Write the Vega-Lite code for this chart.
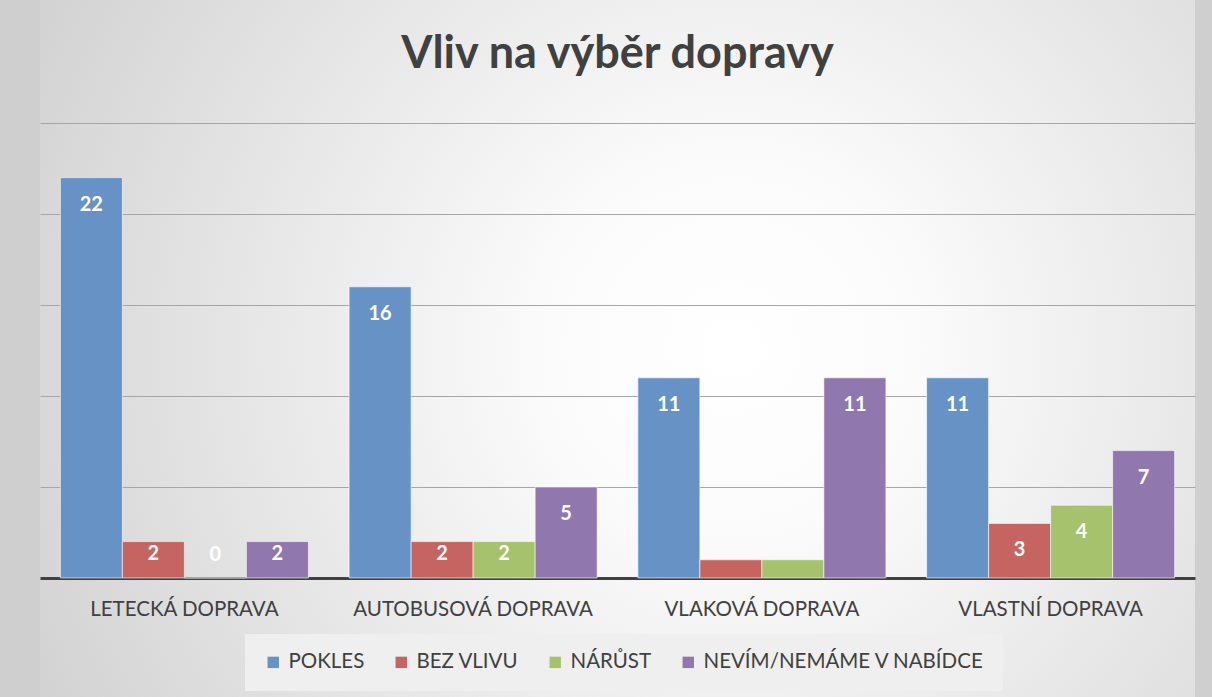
{
  "$schema": "https://vega.github.io/schema/vega-lite/v6.json",
  "autosize": {"type": "none"},
  "width": 1155,
  "height": 697,
  "padding": {"left": 40, "top": 0, "right": 17, "bottom": 0},
  "background": "#cfcfcf",
  "config": {
    "view": {
      "stroke": null,
      "fill": {
        "gradient": "radial",
        "x1": 0.6, "y1": 0.5, "r1": 0,
        "x2": 0.6, "y2": 0.5, "r2": 0.8,
        "stops": [
          {"offset": 0, "color": "#ffffff"},
          {"offset": 0.2, "color": "#fbfbfb"},
          {"offset": 1, "color": "#c8c8c8"}
        ]
      }
    },
    "font": "Lato"
  },
  "title": {
    "text": "Vliv na výběr dopravy",
    "anchor": "middle",
    "orient": "top",
    "offset": -113,
    "baseline": "alphabetic",
    "font": "Lato",
    "fontSize": 45,
    "fontWeight": "bold",
    "color": "#404040"
  },
  "data": {
    "values": [
      {"transport": "LETECKÁ DOPRAVA", "series": "POKLES", "value": 22, "label": "22"},
      {"transport": "LETECKÁ DOPRAVA", "series": "BEZ VLIVU", "value": 2, "label": "2"},
      {"transport": "LETECKÁ DOPRAVA", "series": "NÁRŮST", "value": 0, "label": "0"},
      {"transport": "LETECKÁ DOPRAVA", "series": "NEVÍM/NEMÁME V NABÍDCE", "value": 2, "label": "2"},
      {"transport": "AUTOBUSOVÁ DOPRAVA", "series": "POKLES", "value": 16, "label": "16"},
      {"transport": "AUTOBUSOVÁ DOPRAVA", "series": "BEZ VLIVU", "value": 2, "label": "2"},
      {"transport": "AUTOBUSOVÁ DOPRAVA", "series": "NÁRŮST", "value": 2, "label": "2"},
      {"transport": "AUTOBUSOVÁ DOPRAVA", "series": "NEVÍM/NEMÁME V NABÍDCE", "value": 5, "label": "5"},
      {"transport": "VLAKOVÁ DOPRAVA", "series": "POKLES", "value": 11, "label": "11"},
      {"transport": "VLAKOVÁ DOPRAVA", "series": "BEZ VLIVU", "value": 1, "label": ""},
      {"transport": "VLAKOVÁ DOPRAVA", "series": "NÁRŮST", "value": 1, "label": ""},
      {"transport": "VLAKOVÁ DOPRAVA", "series": "NEVÍM/NEMÁME V NABÍDCE", "value": 11, "label": "11"},
      {"transport": "VLASTNÍ DOPRAVA", "series": "POKLES", "value": 11, "label": "11"},
      {"transport": "VLASTNÍ DOPRAVA", "series": "BEZ VLIVU", "value": 3, "label": "3"},
      {"transport": "VLASTNÍ DOPRAVA", "series": "NÁRŮST", "value": 4, "label": "4"},
      {"transport": "VLASTNÍ DOPRAVA", "series": "NEVÍM/NEMÁME V NABÍDCE", "value": 7, "label": "7"}
    ]
  },
  "encoding": {
    "x": {
      "field": "transport",
      "type": "nominal",
      "sort": ["LETECKÁ DOPRAVA", "AUTOBUSOVÁ DOPRAVA", "VLAKOVÁ DOPRAVA", "VLASTNÍ DOPRAVA"],
      "scale": {"paddingInner": 0.141, "paddingOuter": 0.0705},
      "axis": {
        "title": null,
        "orient": "bottom",
        "offset": -119,
        "labelAngle": 0,
        "ticks": false,
        "grid": false,
        "domainColor": "#404040",
        "domainWidth": 3,
        "labelFont": "Lato",
        "labelFontSize": 20.5,
        "labelColor": "#404040",
        "labelPadding": 21,
        "labelLimit": 400
      }
    },
    "xOffset": {
      "field": "series",
      "type": "nominal",
      "sort": ["POKLES", "BEZ VLIVU", "NÁRŮST", "NEVÍM/NEMÁME V NABÍDCE"],
      "scale": {"paddingInner": 0, "paddingOuter": 0}
    },
    "y": {
      "field": "value",
      "type": "quantitative",
      "scale": {"domain": [-6.54, 31.76], "nice": false, "zero": false},
      "axis": {
        "title": null,
        "values": [5, 10, 15, 20, 25],
        "labels": false,
        "ticks": false,
        "domain": false,
        "grid": true,
        "gridColor": "#a6a6a6",
        "gridWidth": 1
      }
    }
  },
  "layer": [
    {
      "mark": {"type": "bar", "stroke": "#ffffff", "strokeOpacity": 0.6, "strokeWidth": 1},
      "encoding": {
        "y2": {"datum": 0},
        "color": {
          "field": "series",
          "type": "nominal",
          "scale": {
            "domain": ["POKLES", "BEZ VLIVU", "NÁRŮST", "NEVÍM/NEMÁME V NABÍDCE"],
            "range": ["#6792c6", "#c66461", "#a6c26c", "#9077ad"]
          },
          "legend": {
            "title": null,
            "orient": "none",
            "legendX": 205,
            "legendY": 634,
            "direction": "horizontal",
            "fillColor": "#efefef",
            "padding": 18,
            "symbolType": "square",
            "symbolSize": 130,
            "symbolStrokeWidth": 0,
            "labelFont": "Lato",
            "labelFontSize": 20.5,
            "labelColor": "#404040",
            "labelOffset": 5,
            "labelLimit": 400,
            "columnPadding": 26
          }
        }
      }
    },
    {
      "mark": {
        "type": "text",
        "color": "#ffffff",
        "font": "Lato",
        "fontSize": 20,
        "fontWeight": "bold",
        "baseline": "middle",
        "dy": {"expr": "datum.value == 0 ? -23 : datum.value <= 2 ? 12 : 27"}
      },
      "encoding": {
        "text": {"field": "label"}
      }
    }
  ]
}
